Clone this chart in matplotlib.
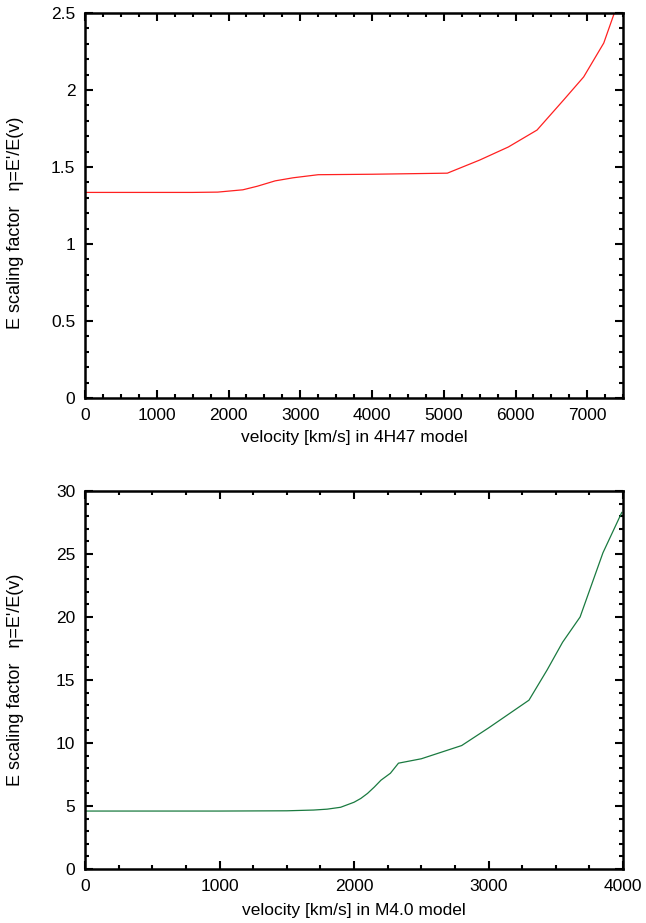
import numpy as np
import matplotlib.pyplot as plt
from matplotlib.ticker import MultipleLocator

plt.rcParams['font.family'] = ['Liberation Sans', 'DejaVu Sans']
plt.rcParams['font.size'] = 12.5

# 4H47 model
v_4h47 = [0, 500, 1000, 1500, 1850, 2200, 2400, 2650, 2900, 3250, 4000, 5050,
          5500, 5900, 6300, 6670, 6950, 7230, 7400]
eta_4h47 = [1.335, 1.335, 1.335, 1.335, 1.337, 1.352, 1.375, 1.41, 1.43, 1.45,
            1.453, 1.46, 1.545, 1.63, 1.74, 1.935, 2.085, 2.305, 2.53]

# M4.0 model
v_m40 = [0, 500, 1000, 1500, 1700, 1800, 1900, 2000, 2050, 2100, 2150, 2200,
         2270, 2330, 2500, 2800, 3000, 3300, 3435, 3550, 3680, 3850, 3990]
eta_m40 = [4.6, 4.6, 4.6, 4.62, 4.68, 4.75, 4.9, 5.3, 5.6, 6.0, 6.5, 7.05,
           7.6, 8.4, 8.75, 9.8, 11.2, 13.4, 15.8, 18.0, 20.0, 25.1, 28.3]

fig = plt.figure(figsize=(6.46, 9.23), dpi=100)
ax1 = fig.add_axes([0.1316, 0.5688, 0.833, 0.4171])
ax2 = fig.add_axes([0.1316, 0.0585, 0.833, 0.4095])

ylab = "E scaling factor   \u03b7=E'/E(v)"

ax1.plot(v_4h47, eta_4h47, color='#ff2020', lw=0.9)
ax1.set_xlim(0, 7500)
ax1.set_ylim(0, 2.5)
ax1.xaxis.set_major_locator(MultipleLocator(1000))
ax1.xaxis.set_minor_locator(MultipleLocator(250))
ax1.yaxis.set_minor_locator(MultipleLocator(0.1))
ax1.set_yticks([0, 0.5, 1, 1.5, 2, 2.5])
ax1.set_yticklabels(['0', '0.5', '1', '1.5', '2', '2.5'])
ax1.set_xlabel('velocity [km/s] in 4H47 model', labelpad=5)
ax1.set_ylabel(ylab, fontsize=13)
ax1.yaxis.set_label_coords(-0.113, 0.455)

ax2.plot(v_m40, eta_m40, color='#1a7a40', lw=0.9)
ax2.set_xlim(0, 4000)
ax2.set_ylim(0, 30)
ax2.xaxis.set_major_locator(MultipleLocator(1000))
ax2.xaxis.set_minor_locator(MultipleLocator(250))
ax2.yaxis.set_major_locator(MultipleLocator(5))
ax2.yaxis.set_minor_locator(MultipleLocator(1))
ax2.set_xlabel('velocity [km/s] in M4.0 model', labelpad=7)
ax2.set_ylabel(ylab, fontsize=13)
ax2.yaxis.set_label_coords(-0.113, 0.5)

for ax in (ax1, ax2):
    for s in ax.spines.values():
        s.set_linewidth(1.8)
    ax.tick_params(which='both', direction='in', top=True, right=True, width=1.5)
    ax.tick_params(which='major', length=6, pad=7)
    ax.tick_params(which='minor', length=3)

fig.savefig('out.png', dpi=100)
